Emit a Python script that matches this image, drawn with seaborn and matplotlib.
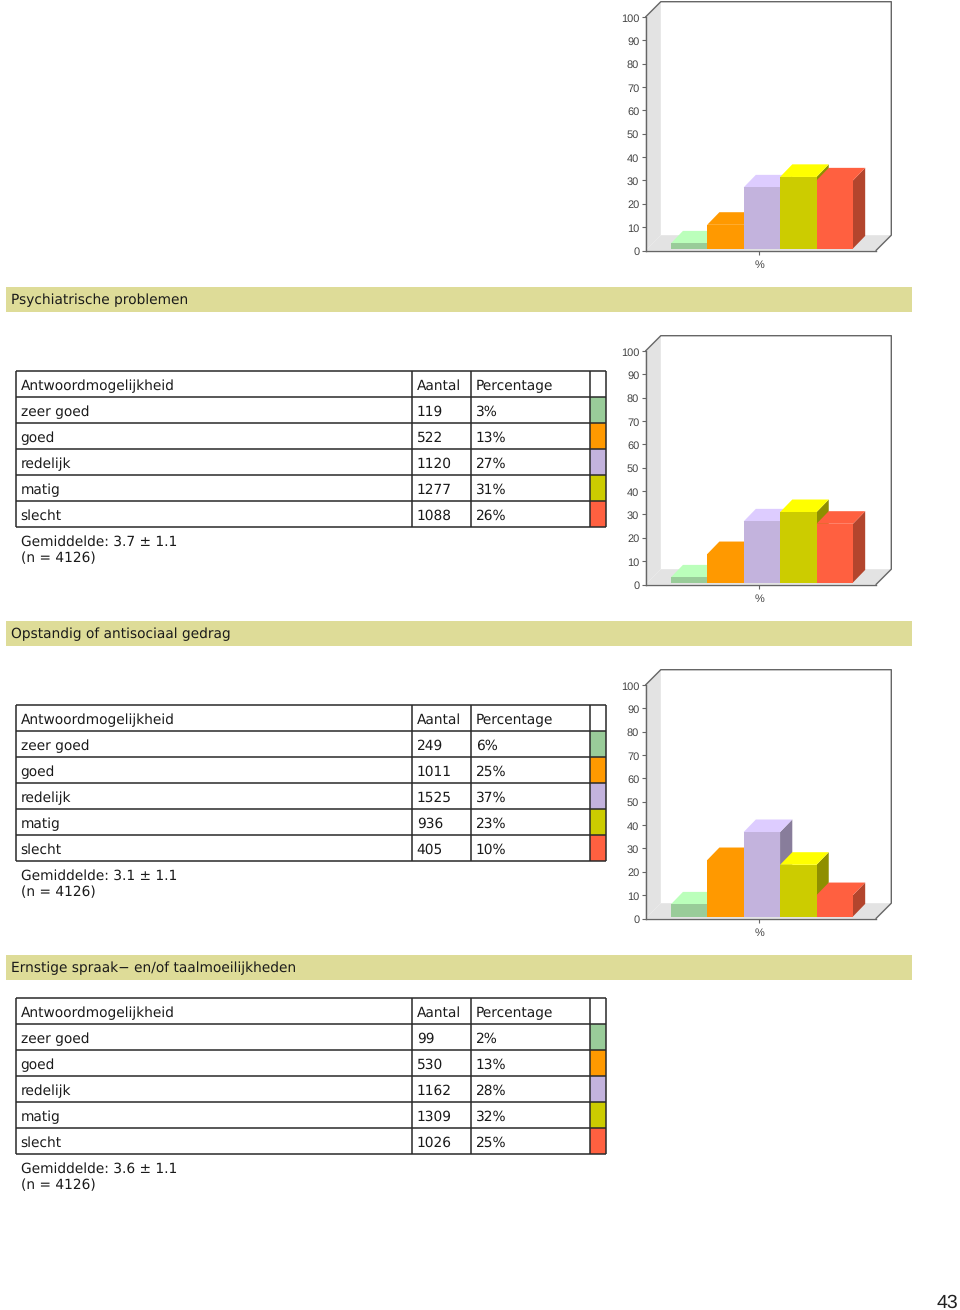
import matplotlib
matplotlib.use("Agg")
import matplotlib.pyplot as plt
from matplotlib.patches import Polygon, Rectangle
from matplotlib.transforms import ScaledTranslation
import seaborn as sns
import pandas as pd

W, H = 960, 1310

answers = ["zeer goed", "goed", "redelijk", "matig", "slecht"]
headers = ["Antwoordmogelijkheid", "Aantal", "Percentage"]
titles = ["Psychiatrische problemen", "Opstandig of antisociaal gedrag",
          "Ernstige spraak\u2212 en/of taalmoeilijkheden"]
counts_a = [119, 522, 1120, 1277, 1088]
counts_b = [249, 1011, 1525, 936, 405]
counts_c = [99, 530, 1162, 1309, 1026]
pct_a = [3, 13, 27, 31, 26]
pct_b = [6, 25, 37, 23, 10]
pct_c = [2, 13, 28, 32, 25]
pct_prev = [3, 11, 27, 31.5, 30]
means = ["3.7 \u00b1 1.1", "3.1 \u00b1 1.1", "3.6 \u00b1 1.1"]
n_total = 4126
page_number = "43"

front_colors = ["#99CC99", "#FF9900", "#C3B3DD", "#CCCC00", "#FF6040"]
top_colors = ["#BBFFBB", "#FF9900", "#DDCCFF", "#FFFF00", "#FF6040"]
side_colors = ["#6B8F6B", "#B36B00", "#887D9B", "#8F8F00", "#B3452D"]
band_color = "#DEDC98"
line_color = "#2A2A2A"
frame_color = "#666666"
wall_color = "#E3E3E3"
text_color = "#1A1A1A"

sns.set_theme(style="white")
plt.rcParams["font.family"] = ["DejaVu Sans"]
plt.rcParams["text.hinting"] = "none"
plt.rcParams["text.hinting_factor"] = 8

fig = plt.figure(figsize=(W / 100, H / 100), dpi=100, facecolor="white")
page = fig.add_axes([0, 0, 1, 1], zorder=0)
page.set_xlim(0, W)
page.set_ylim(H, 0)
page.axis("off")

TXT = 9.9


def draw_table(top, counts, pcts, mean, row_h=25.95):
    xs = [16, 412, 471, 590, 606]
    ys = [top + i * row_h for i in range(7)]
    for i, c in enumerate(front_colors):
        page.add_patch(Rectangle((590, ys[i + 1]), 16, row_h, fc=c, ec="none", zorder=1))
    for y in ys:
        page.plot([xs[0], xs[-1]], [y, y], color=line_color, lw=1.1, zorder=2, solid_capstyle="butt")
    for x in xs:
        page.plot([x, x], [ys[0], ys[-1]], color=line_color, lw=1.1, zorder=2, solid_capstyle="butt")
    rows = [headers] + [[a, str(c), f"{p}%"] for a, c, p in zip(answers, counts, pcts)]
    for r, row in enumerate(rows):
        yc = ys[r] + row_h / 2 + 2.2
        for tx, s in zip([20.6, 416.8, 475.8], row):
            page.text(tx, yc, s, fontsize=TXT, va="center", ha="left", color=text_color)
    page.text(20.6, ys[-1] + 15, f"Gemiddelde: {mean}", fontsize=TXT, va="center", color=text_color)
    page.text(20.6, ys[-1] + 31.2, f"(n = {n_total})", fontsize=TXT, va="center", color=text_color)


def draw_band(y, title):
    page.add_patch(Rectangle((6, y), 906, 25.5, fc=band_color, ec="none", zorder=1))
    page.text(11, y + 13.6, title, fontsize=TXT, va="center", ha="left", color=text_color)


def draw_chart(off, vals):
    x0, x1, y100, y0 = 645.5, 876.0, 17.0 + off, 250.5 + off
    d = 15.3
    page.add_patch(Polygon([(x0, y100), (x0 + d, y100 - d), (x0 + d, y0 - d), (x0, y0)],
                           fc=wall_color, ec="none", zorder=1))
    page.add_patch(Polygon([(x0, y0), (x0 + d, y0 - d), (x1 + d, y0 - d), (x1, y0)],
                           fc=wall_color, ec="none", zorder=1))
    page.plot([x0, x0 + d, x1 + d, x1 + d, x1], [y100, y100 - d, y100 - d, y0 - d, y0],
              color=frame_color, lw=1.0, zorder=2)

    ax = fig.add_axes([x0 / W, 1 - y0 / H, (x1 - x0) / W, (y0 - y100) / H], zorder=2)
    ax.patch.set_alpha(0)
    df = pd.DataFrame({"answer": answers, "pct": vals})
    sns.barplot(data=df, x="answer", y="pct", hue="answer", palette=front_colors,
                saturation=1, width=1, dodge=False, legend=False, linewidth=0, ax=ax)
    cat_px = 36.4
    unit_px = (y0 - y100) / 100
    ax.set_xlim(-0.5 - 25.2 / cat_px, 4.5 + 23.0 / cat_px)
    ax.set_ylim(0, 100)
    ddx = 12.2 / cat_px
    ddy = 12.6 / unit_px
    base = 2.0 / unit_px
    for i, (p, v) in enumerate(zip(ax.patches, vals)):
        p.set_y(base)
        p.set_height(v - base)
        p.set_zorder(3 + i)
        l, r = p.get_x(), p.get_x() + p.get_width()
        ax.add_patch(Polygon([(r, base), (r + ddx, base + ddy), (r + ddx, v + ddy), (r, v)],
                             fc=side_colors[i], ec="none", zorder=2.5 + i))
        ax.add_patch(Polygon([(l, v), (l + ddx, v + ddy), (r + ddx, v + ddy), (r, v)],
                             fc=top_colors[i], ec="none", zorder=2.6 + i))
    for s in ["top", "right"]:
        ax.spines[s].set_visible(False)
    for s in ["left", "bottom"]:
        ax.spines[s].set_color(frame_color)
        ax.spines[s].set_linewidth(1.0)
        ax.spines[s].set_zorder(20)
    ax.set_yticks(range(0, 101, 10))
    ax.set_xticks([1.93])
    ax.set_xticklabels(["%"])
    ax.set_xlabel("")
    ax.set_ylabel("")
    ax.tick_params(axis="both", which="major", left=True, bottom=True, length=3, width=0.8, color=frame_color,
                   labelcolor="#444444", pad=1.5)
    ax.tick_params(axis="x", pad=4)
    for t in ax.get_xticklabels() + ax.get_yticklabels():
        t.set_fontfamily("Liberation Sans")
        t.set_fontsize(7.9)
    shift = ScaledTranslation(0, -0.5 / 100, fig.dpi_scale_trans)
    for t in ax.get_yticklabels():
        t.set_transform(t.get_transform() + shift)


draw_chart(0, pct_prev)
draw_chart(334, pct_a)
draw_chart(668, pct_b)

draw_band(286.5, titles[0])
draw_band(620.5, titles[1])
draw_band(954.5, titles[2])

draw_table(371, counts_a, pct_a, means[0])
draw_table(705, counts_b, pct_b, means[1])
draw_table(998, counts_c, pct_c, means[2])

page.text(958, 1303, page_number, fontsize=14, family="Liberation Sans", ha="right", va="center", color="#222222")

fig.savefig("out.png", dpi=100)
